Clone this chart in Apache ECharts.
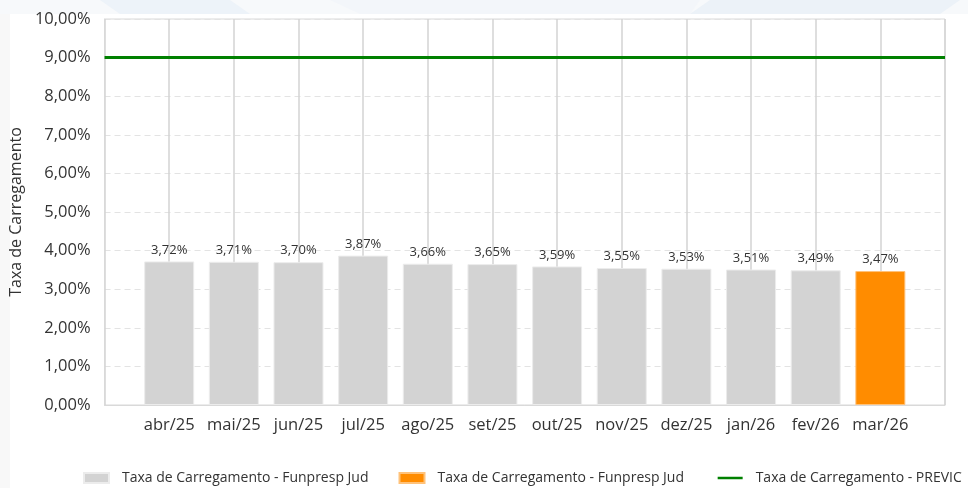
<!DOCTYPE html>
<html>
<head>
<meta charset="utf-8">
<script src="https://cdn.jsdelivr.net/npm/echarts@6/dist/echarts.min.js"></script>
<style>
  html, body { margin: 0; padding: 0; background: #fff; }
  #app { width: 968px; height: 488px; }
</style>
</head>
<body>
<div id="app"></div>
<script>
const months = ["abr/25", "mai/25", "jun/25", "jul/25", "ago/25", "set/25", "out/25", "nov/25", "dez/25", "jan/26", "fev/26", "mar/26"];
const funprespHist = [3.72, 3.71, 3.70, 3.87, 3.66, 3.65, 3.59, 3.55, 3.53, 3.51, 3.49, null];
const funprespAtual = [null, null, null, null, null, null, null, null, null, null, null, 3.47];
const previc = [9, 9, 9, 9, 9, 9, 9, 9, 9, 9, 9, 9];
const yTicks = [0, 1, 2, 3, 4, 5, 6, 7, 8, 9, 10];

const app = document.getElementById("app");
const myChart = echarts.init(app);

// empty slot on each side so the grid lines fall on the bar centres
const pad = (arr, v) => [v].concat(arr, [v]);
const fmt = (v) => v.toFixed(2).replace(".", ",") + "%";
const font = "'Open Sans', 'Noto Sans', sans-serif";

const option = {
  backgroundColor: "#ffffff",
  textStyle: { fontFamily: font },
  graphic: [
    { type: "rect", shape: { x: 0, y: 0, width: 968, height: 14 }, style: { fill: "#f7f9fb" }, z: -10 },
    { type: "rect", shape: { x: 0, y: 14, width: 10, height: 474 }, style: { fill: "#f8f8f8" }, z: -10 },
    { type: "polygon", shape: { points: [[100, 0], [230, 0], [250, 14], [120, 14]] }, style: { fill: "#edf3f9" }, z: -9 },
    { type: "polygon", shape: { points: [[330, 0], [700, 0], [690, 14], [360, 14]] }, style: { fill: "#f3f6fa" }, z: -9 },
    { type: "polygon", shape: { points: [[710, 0], [960, 0], [940, 14], [690, 14]] }, style: { fill: "#ecf2f8" }, z: -9 },
  ],
  grid: {
    left: 104,
    right: 23,
    top: 19,
    bottom: 83,
    show: true,
    borderColor: "#d9d9d9",
    borderWidth: 1,
  },
  legend: {
    left: 83,
    top: 471,
    width: 1100,
    padding: 0,
    itemWidth: 25,
    itemHeight: 10,
    itemGap: 30,
    textStyle: { color: "#333", fontSize: 14, fontFamily: font, padding: [0, 0, 0, 8] },
    data: [
      { name: "Taxa de Carregamento - Funpresp Jud", icon: "rect" },
      { name: "Taxa de Carregamento - Funpresp Jud ", icon: "rect" },
      { name: "Taxa de Carregamento - PREVIC", icon: "path://M0,0 L30,0 L30,3 L0,3 Z" },
    ],
  },
  xAxis: {
    type: "category",
    data: pad(months, ""),
    boundaryGap: false,
    axisLine: { lineStyle: { color: "#d9d9d9" } },
    axisTick: { show: false },
    axisLabel: { color: "#333", fontSize: 16.5, margin: 12, interval: 0 },
    splitLine: { show: true, lineStyle: { color: "#d3d3d3", width: 1.5 } },
  },
  yAxis: {
    type: "value",
    min: yTicks[0],
    max: yTicks[yTicks.length - 1],
    interval: 1,
    name: "Taxa de Carregamento",
    nameLocation: "middle",
    nameGap: 80,
    nameTextStyle: { color: "#333", fontSize: 16 },
    axisLine: { show: true, lineStyle: { color: "#d9d9d9" } },
    axisTick: { show: false },
    axisLabel: { color: "#333", fontSize: 16.5, margin: 14, formatter: fmt },
    splitLine: { show: true, lineStyle: { color: "#e3e3e3", type: [6, 4] } },
  },
  series: [
    {
      name: "Taxa de Carregamento - Funpresp Jud",
      type: "bar",
      data: pad(funprespHist, null),
      barWidth: 50,
      barGap: "-100%",
      itemStyle: { color: "#d3d3d3", borderColor: "#ececec", borderWidth: 1 },
      label: { show: true, position: "top", distance: 5, color: "#333", fontSize: 13, formatter: (p) => fmt(p.value) },
      z: 3,
    },
    {
      name: "Taxa de Carregamento - Funpresp Jud ",
      type: "bar",
      data: pad(funprespAtual, null),
      barWidth: 50,
      itemStyle: { color: "#ff8c00", borderColor: "#ffc27a", borderWidth: 1 },
      label: { show: true, position: "top", distance: 5, color: "#333", fontSize: 13, formatter: (p) => fmt(p.value) },
      z: 3,
    },
    {
      name: "Taxa de Carregamento - PREVIC",
      type: "line",
      data: pad(previc, previc[0]),
      symbol: "none",
      lineStyle: { color: "#008000", width: 3 },
      itemStyle: { color: "#008000" },
      z: 4,
    },
  ],
  animation: false,
};
myChart.setOption(option);
</script>
</body>
</html>
